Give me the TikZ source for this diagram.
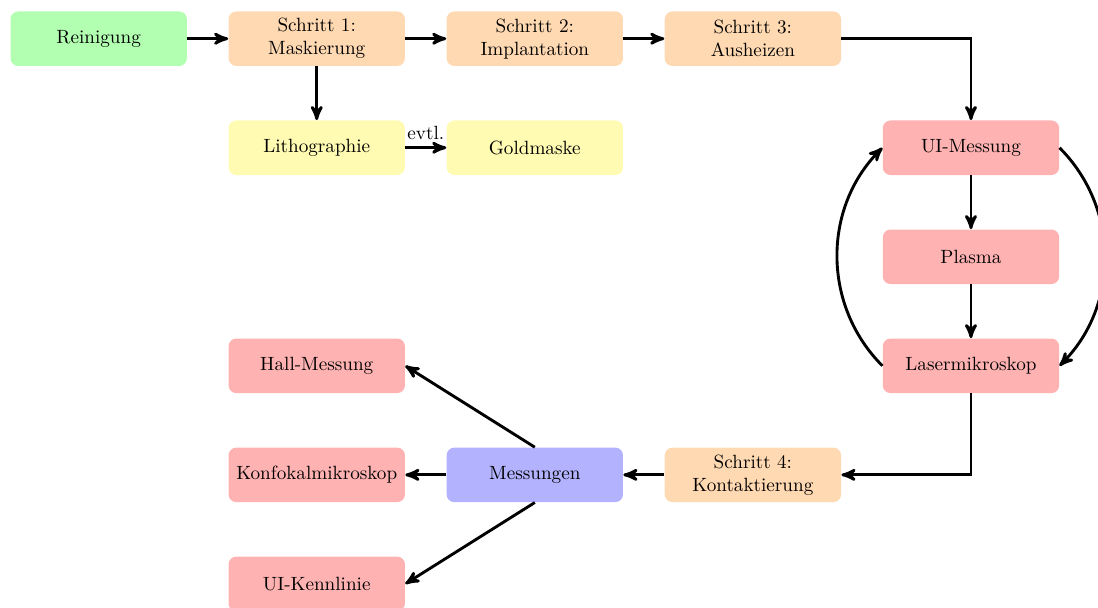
\documentclass[tikz,border=0pt]{standalone}
\usepackage{tikz}
\usetikzlibrary{arrows,positioning}
\tikzset{box/.style={rounded corners, text width=3cm, align=center, minimum height=1cm},
  clean/.style={box, fill=green!30},
  stepbox/.style={box, fill=orange!30},
  maskbox/.style={box, fill=yellow!30},
  measbox/.style={box, fill=red!30},
  mainbox/.style={box, fill=blue!30},
  flow/.style={->, >=stealth', line width=1.5pt}}

\begin{document}
\begin{tikzpicture}
      \useasboundingbox (-1.81,0.71) rectangle (18.33,-10.43);
      \node[clean] at (0,0) (rein) {Reinigung};
      \node[stepbox] at (4,0) (s1) {Schritt 1:\\Maskierung};
      \node[stepbox] at (8,0) (s2) {Schritt 2:\\Implantation};
      \node[stepbox] at (12,0) (s3) {Schritt 3:\\Ausheizen};
      \node[maskbox] at (4,-2) (litho) {Lithographie};
      \node[maskbox] at (8,-2) (gold) {Goldmaske};
      \node[measbox] at (16,-2) (ui) {UI-Messung};
      \node[measbox] at (16,-4) (plasma) {Plasma};
      \node[measbox] at (16,-6) (laser) {Lasermikroskop};
      \node[stepbox] at (12,-8) (s4) {Schritt 4:\\Kontaktierung};
      \node[mainbox] at (8,-8) (mess) {Messungen};
      \node[measbox] at (4,-6) (hall) {Hall-Messung};
      \node[measbox] at (4,-8) (konf) {Konfokalmikroskop};
      \node[measbox] at (4,-10) (uik) {UI-Kennlinie};
      \draw[flow] (rein)--(s1);
      \draw[flow] (s1)--(s2);
      \draw[flow] (s2)--(s3);
      \draw[flow] (s1)--(litho);
      \draw[flow] (litho)-- node[above] {evtl.} (gold);
      \draw[flow] (s3)-|(ui);
      \draw[flow] (ui)--(plasma);
      \draw[flow] (plasma)--(laser);
      \draw[flow] (ui.east) to[bend left=45] (laser.east);
      \draw[flow] (laser.west) to[bend left=45] (ui.west);
      \draw[flow] (laser)|-(s4);
      \draw[flow] (s4)--(mess);
      \draw[flow] (mess)--(konf);
      \draw[flow] (mess.north)--(hall.east);
      \draw[flow] (mess.south)--(uik.east);
    \end{tikzpicture}
\end{document}
